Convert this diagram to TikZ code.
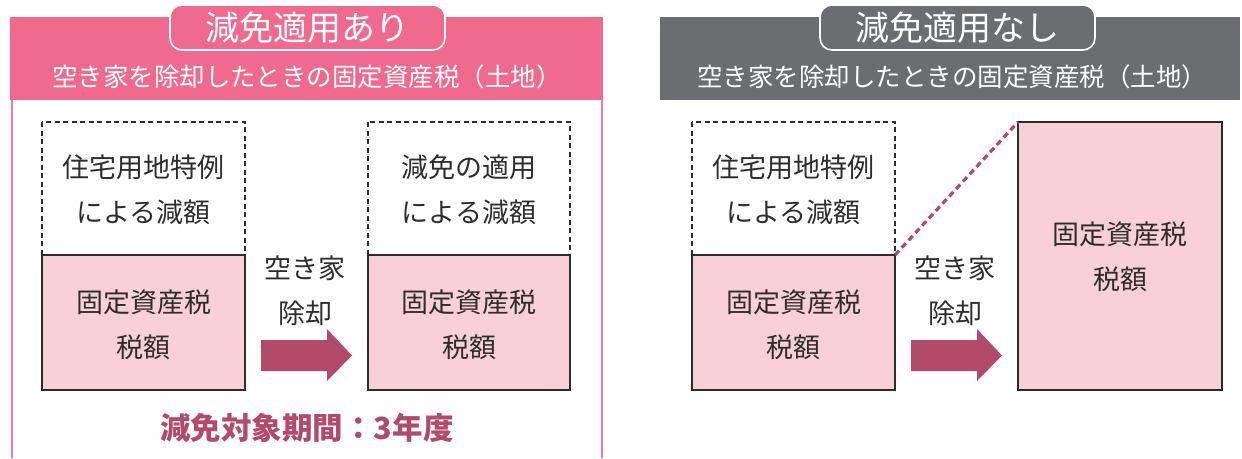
\documentclass[tikz,border=0pt]{standalone}
\usepackage{fontspec}
\setmainfont{Noto Sans CJK JP}
\definecolor{hpink}{RGB}{239,106,141}
\definecolor{hgray}{RGB}{108,109,113}
\definecolor{bpink}{RGB}{249,207,217}
\definecolor{arrowc}{RGB}{178,74,107}
\definecolor{framep}{RGB}{240,125,162}
\definecolor{edgec}{RGB}{45,45,45}
\tikzset{
  tabbox/.style={draw=white,line width=1.6pt,rounded corners=12pt},
  dashbox/.style={draw=edgec,line width=1.3pt,dash pattern=on 5pt off 3.5pt,fill=white},
  taxbox/.style={draw=edgec,line width=1.5pt,fill=bpink},
  btxt/.style={align=center,text=edgec,font=\fontsize{27}{45}\selectfont},
  bigarrow/.style={fill=arrowc,draw=none},
  frameline/.style={draw=framep,line width=2pt},
  tabtxt/.style={text=white,font=\fontsize{34}{38}\selectfont},
  subtxt/.style={text=white,font=\fontsize{25.5}{30}\selectfont},
}
\begin{document}
\begin{tikzpicture}[x=1pt,y=-1pt]
\useasboundingbox (0,0) rectangle (1242,458);
% ---------- left panel ----------
\fill[hpink] (10,17) rectangle (603,100);
\draw[frameline] (11.5,100) -- (11.5,458);
\draw[frameline] (601.5,100) -- (601.5,458);
\draw[tabbox,fill=hpink] (170,5) rectangle (445,50);
\node[tabtxt] (tabL) at (307.5,28) {減免適用あり};
\node[subtxt] (subL) at (307,77) {空き家を除却したときの固定資産税（土地）};
% boxes
\draw[dashbox] (42,122) rectangle (245,255);
\draw[taxbox] (42,255) rectangle (245,390);
\node[btxt] (a1) at (143.5,189.5) {住宅用地特例\\による減額};
\node[btxt] (a2) at (143.5,324.5) {固定資産税\\税額};
\draw[dashbox] (368,122) rectangle (570,255);
\draw[taxbox] (368,255) rectangle (570,390);
\node[btxt] (b1) at (469,189.5) {減免の適用\\による減額};
\node[btxt] (b2) at (469,324.5) {固定資産税\\税額};
\node[btxt] (cL) at (305,290.5) {空き家\\除却};
\fill[bigarrow] (261,340) -- (327,340) -- (327,329) -- (352,355.5) -- (327,381) -- (327,371) -- (261,371) -- cycle;
\node[text=arrowc,font=\fontsize{30.5}{34}\selectfont\bfseries] (periodL) at (307,428) {減免対象期間：3年度};
% ---------- right panel ----------
\fill[hgray] (660,17) rectangle (1240,100);
\draw[tabbox,fill=hgray] (820,5) rectangle (1095,50);
\node[tabtxt] (tabR) at (957.5,28) {減免適用なし};
\node[subtxt] (subR) at (952,77) {空き家を除却したときの固定資産税（土地）};
\draw[dashbox] (692,122) rectangle (895,255);
\draw[taxbox] (692,255) rectangle (895,390);
\node[btxt] (c1) at (793.5,189.5) {住宅用地特例\\による減額};
\node[btxt] (c2) at (793.5,324.5) {固定資産税\\税額};
\draw[taxbox] (1018,122) rectangle (1222,390);
\node[btxt] (d1) at (1120,257) {固定資産税\\税額};
\coordinate (dl0) at (895,255);
\coordinate (dl1) at (1018,122);
\draw[arrowc,line width=3.2pt,dash pattern=on 6pt off 4pt] (dl0) -- (dl1);
\node[btxt] (cR) at (955,290.5) {空き家\\除却};
\fill[bigarrow] (911,340) -- (977,340) -- (977,329) -- (1002,355.5) -- (977,381) -- (977,371) -- (911,371) -- cycle;
\end{tikzpicture}
\end{document}
